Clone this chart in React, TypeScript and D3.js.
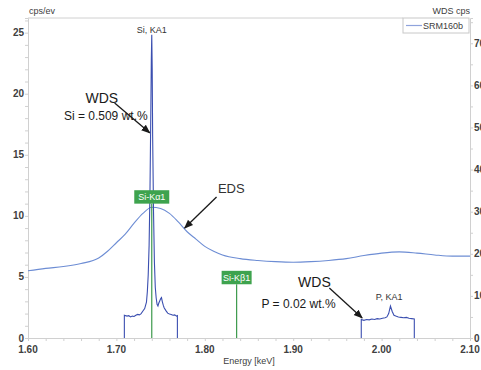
import React, { useRef, useEffect } from "react";
import * as d3 from "d3";

// EDS spectrum, energy (keV) vs cps/eV (left axis)
const edsEnergy = [1.6, 1.62, 1.64, 1.66, 1.68, 1.69, 1.7, 1.71, 1.72, 1.73, 1.74, 1.75, 1.76, 1.77, 1.78, 1.79, 1.8, 1.81, 1.82, 1.84, 1.86, 1.88, 1.9, 1.92, 1.94, 1.96, 1.98, 2.0, 2.02, 2.04, 2.06, 2.08, 2.1];
const edsValue = [5.5, 5.7, 5.85, 6.1, 6.55, 7.1, 7.8, 8.5, 9.4, 10.2, 10.7, 10.6, 10.2, 9.5, 8.7, 8.1, 7.5, 7.1, 6.8, 6.5, 6.35, 6.25, 6.2, 6.25, 6.35, 6.5, 6.75, 6.95, 7.05, 6.95, 6.8, 6.7, 6.7];

// WDS Si KA1 scan, energy vs WDS cps (right axis)
const wdsSiEnergy = [1.709, 1.709, 1.712, 1.714, 1.716, 1.718, 1.72, 1.722, 1.724, 1.726, 1.728, 1.73, 1.732, 1.734, 1.735, 1.736, 1.737, 1.738, 1.739, 1.7395, 1.74, 1.7405, 1.741, 1.742, 1.743, 1.744, 1.745, 1.746, 1.747, 1.748, 1.749, 1.75, 1.751, 1.752, 1.753, 1.754, 1.756, 1.758, 1.76, 1.762, 1.764, 1.766, 1.768, 1.769, 1.769];
const wdsSiValue = [0, 5.4, 5.2, 5.3, 5.0, 5.2, 5.1, 5.4, 5.6, 5.5, 5.8, 6.4, 7.0, 8.5, 11, 15, 22, 35, 55, 66, 72, 64, 48, 30, 18, 12, 9.5, 8.0, 7.6, 8.3, 8.8, 9.3, 9.6, 8.6, 7.8, 7.2, 6.5, 5.9, 5.7, 5.6, 5.4, 5.5, 5.2, 5.3, 0];

// WDS P KA1 scan
const wdsPEnergy = [1.977, 1.977, 1.98, 1.983, 1.986, 1.989, 1.992, 1.995, 1.998, 2.001, 2.004, 2.006, 2.008, 2.01, 2.012, 2.014, 2.016, 2.019, 2.022, 2.025, 2.028, 2.031, 2.034, 2.037, 2.037];
const wdsPValue = [0, 4.4, 4.2, 4.4, 4.3, 4.5, 4.4, 4.6, 4.5, 4.7, 4.8, 5.0, 5.8, 7.6, 6.3, 5.4, 5.2, 5.0, 4.9, 4.8, 4.9, 4.7, 4.6, 4.5, 0];

const xTicks = [1.6, 1.7, 1.8, 1.9, 2.0, 2.1];
const leftTicks = [0, 5, 10, 15, 20, 25];
const rightTicks = [0, 10, 20, 30, 40, 50, 60, 70];

// EDS line markers: label, energy, top/bottom of box in cps/eV
const lineMarkers = [
  { label: "Si-K\u03b11", energy: 1.74, top: 12.1, bottom: 11.0, w: 35 },
  { label: "Si-K\u03b21", energy: 1.836, top: 5.5, bottom: 4.4, w: 30 },
];

// text annotations in data units (energy, cps/eV baseline)
const notes = [
  { text: "WDS", e: 1.6835, v: 19.25, size: 14, color: "#1a1a1a" },
  { text: "Si = 0.509 wt.%", e: 1.688, v: 17.85, size: 12, color: "#1a1a1a" },
  { text: "EDS", e: 1.830, v: 11.9, size: 13, color: "#333" },
  { text: "WDS", e: 1.924, v: 4.18, size: 14, color: "#1a1a1a" },
  { text: "P = 0.02 wt.%", e: 1.906, v: 2.46, size: 12, color: "#1a1a1a" },
  { text: "Si, KA1", e: 1.74, v: 25.0, size: 9, color: "#333" },
  { text: "P, KA1", e: 2.0085, v: 3.15, size: 9, color: "#333" },
];

const arrows = [
  { e0: 1.698, v0: 19.25, e1: 1.7377, v1: 16.8 },
  { e0: 1.8133, v0: 11.55, e1: 1.7772, v1: 9.0 },
  { e0: 1.9409, v0: 4.1, e1: 1.978, v1: 1.64 },
];

const W = 481;
const H = 370;
const margin = { top: 18, right: 11, bottom: 32, left: 28 };
const font = "'Liberation Sans', Arial, sans-serif";

export default function App() {
  const ref = useRef<SVGSVGElement>(null);

  useEffect(() => {
    const svg = d3.select(ref.current);
    svg.selectAll("*").remove();

    const x = d3.scaleLinear().domain([1.6, 2.1]).range([margin.left, W - margin.right]);
    const yL = d3.scaleLinear().domain([0, 26.2]).range([H - margin.bottom, margin.top]);
    const yR = d3.scaleLinear().domain([0, 76]).range([H - margin.bottom, margin.top]);
    const axisColor = "#d0d0d0";
    const labelColor = "#404040";

    svg.append("defs").append("marker")
      .attr("id", "arrowhead")
      .attr("viewBox", "0 0 10 10")
      .attr("refX", 9).attr("refY", 5)
      .attr("markerWidth", 7).attr("markerHeight", 7)
      .attr("orient", "auto")
      .append("path").attr("d", "M0,1 L10,5 L0,9 Z").attr("fill", "#1a1a1a");

    // frame top line (stops at legend)
    svg.append("line")
      .attr("x1", margin.left).attr("x2", 403)
      .attr("y1", margin.top).attr("y2", margin.top)
      .attr("stroke", axisColor);

    // axes
    const bottom = svg.append("g")
      .attr("transform", `translate(0,${H - margin.bottom})`)
      .call(d3.axisBottom(x).tickValues(d3.range(1.6, 2.101, 0.02)).tickSize(3).tickFormat(() => ""));
    bottom.select(".domain").attr("stroke", axisColor);
    bottom.selectAll("line").attr("stroke", axisColor);

    const left = svg.append("g")
      .attr("transform", `translate(${margin.left},0)`)
      .call(d3.axisLeft(yL).tickValues(d3.range(0, 26.01, 1)).tickSize(3).tickFormat(() => ""));
    left.select(".domain").attr("stroke", axisColor);
    left.selectAll("line").attr("stroke", axisColor);

    const right = svg.append("g")
      .attr("transform", `translate(${W - margin.right},0)`)
      .call(d3.axisRight(yR).tickValues(d3.range(0, 76, 5)).tickSize(3).tickFormat(() => ""));
    right.select(".domain").attr("stroke", axisColor);
    right.selectAll("line").attr("stroke", axisColor);

    // tick labels
    svg.append("g").selectAll("text").data(xTicks).enter().append("text")
      .attr("x", (d) => x(d)).attr("y", H - margin.bottom + 15)
      .attr("text-anchor", "middle").attr("font-size", 10).attr("font-weight", "bold")
      .attr("font-family", font).attr("fill", labelColor)
      .text((d) => d.toFixed(2));
    svg.append("g").selectAll("text").data(leftTicks).enter().append("text")
      .attr("x", margin.left - 4).attr("y", (d) => yL(d) + 3.5)
      .attr("text-anchor", "end").attr("font-size", 10).attr("font-weight", "bold")
      .attr("font-family", font).attr("fill", labelColor)
      .text((d) => d);
    // right labels run off the edge, as in the original
    svg.append("g").selectAll("text").data(rightTicks).enter().append("text")
      .attr("x", W - margin.right + 4).attr("y", (d) => yR(d) + 3.5)
      .attr("text-anchor", "start").attr("font-size", 10).attr("font-weight", "bold")
      .attr("font-family", font).attr("fill", labelColor)
      .text((d) => d);

    // axis titles
    svg.append("text").attr("x", 29).attr("y", 14).attr("font-size", 9)
      .attr("font-family", font).attr("fill", labelColor).text("cps/ev");
    svg.append("text").attr("x", W - margin.right).attr("y", 14).attr("font-size", 9)
      .attr("text-anchor", "end").attr("font-family", font).attr("fill", labelColor).text("WDS  cps");
    svg.append("text").attr("x", (x(1.6) + x(2.1)) / 2).attr("y", H - 6).attr("font-size", 9)
      .attr("text-anchor", "middle").attr("font-family", font).attr("fill", labelColor).text("Energy [keV]");

    // EDS curve
    const edsLine = d3.line<number>()
      .x((d, i) => x(edsEnergy[i]))
      .y((d) => yL(d))
      .curve(d3.curveMonotoneX);
    svg.append("path").datum(edsValue).attr("d", edsLine)
      .attr("fill", "none").attr("stroke", "#6d8dd4").attr("stroke-width", 1.1);

    // WDS scans
    const drawWds = (en: number[], val: number[]) => {
      const line = d3.line<number>().x((d, i) => x(en[i])).y((d) => yR(d));
      svg.append("path").datum(val).attr("d", line)
        .attr("fill", "none").attr("stroke", "#3b4fb0").attr("stroke-width", 1.1);
    };
    drawWds(wdsSiEnergy, wdsSiValue);
    drawWds(wdsPEnergy, wdsPValue);

    // EDS line markers
    lineMarkers.forEach((m) => {
      svg.append("line")
        .attr("x1", x(m.energy)).attr("x2", x(m.energy))
        .attr("y1", yL(m.bottom)).attr("y2", yL(0))
        .attr("stroke", "#3d9a4c").attr("stroke-width", 1.2);
      svg.append("rect")
        .attr("x", x(m.energy) - m.w / 2).attr("y", yL(m.top))
        .attr("width", m.w).attr("height", yL(m.bottom) - yL(m.top))
        .attr("fill", "#3ea34e");
      svg.append("text")
        .attr("x", x(m.energy)).attr("y", (yL(m.top) + yL(m.bottom)) / 2 + 3.2)
        .attr("text-anchor", "middle").attr("font-size", 9).attr("font-family", font)
        .attr("fill", "#fff").text(m.label);
    });

    // annotations
    notes.forEach((n) => {
      svg.append("text")
        .attr("x", x(n.e)).attr("y", yL(n.v))
        .attr("text-anchor", "middle").attr("font-size", n.size).attr("font-family", font)
        .attr("fill", n.color).text(n.text);
    });
    arrows.forEach((a) => {
      svg.append("line")
        .attr("x1", x(a.e0)).attr("y1", yL(a.v0))
        .attr("x2", x(a.e1)).attr("y2", yL(a.v1))
        .attr("stroke", "#1a1a1a").attr("stroke-width", 1.3)
        .attr("marker-end", "url(#arrowhead)");
    });

    // legend
    const legend = svg.append("g").attr("transform", `translate(403,${margin.top})`);
    legend.append("rect").attr("width", 66).attr("height", 15)
      .attr("fill", "#fff").attr("stroke", "#c8c8c8");
    legend.append("line").attr("x1", 3).attr("x2", 19).attr("y1", 7.5).attr("y2", 7.5)
      .attr("stroke", "#8fa3dc").attr("stroke-width", 1.2);
    legend.append("text").attr("x", 20).attr("y", 11).attr("font-size", 9)
      .attr("font-family", font).attr("fill", labelColor).text("SRM160b");
  }, []);

  return (
    <svg
      ref={ref}
      width={W}
      height={H}
      style={{ position: "absolute", left: 0, top: 0, background: "#fff", overflow: "hidden" }}
    />
  );
}
